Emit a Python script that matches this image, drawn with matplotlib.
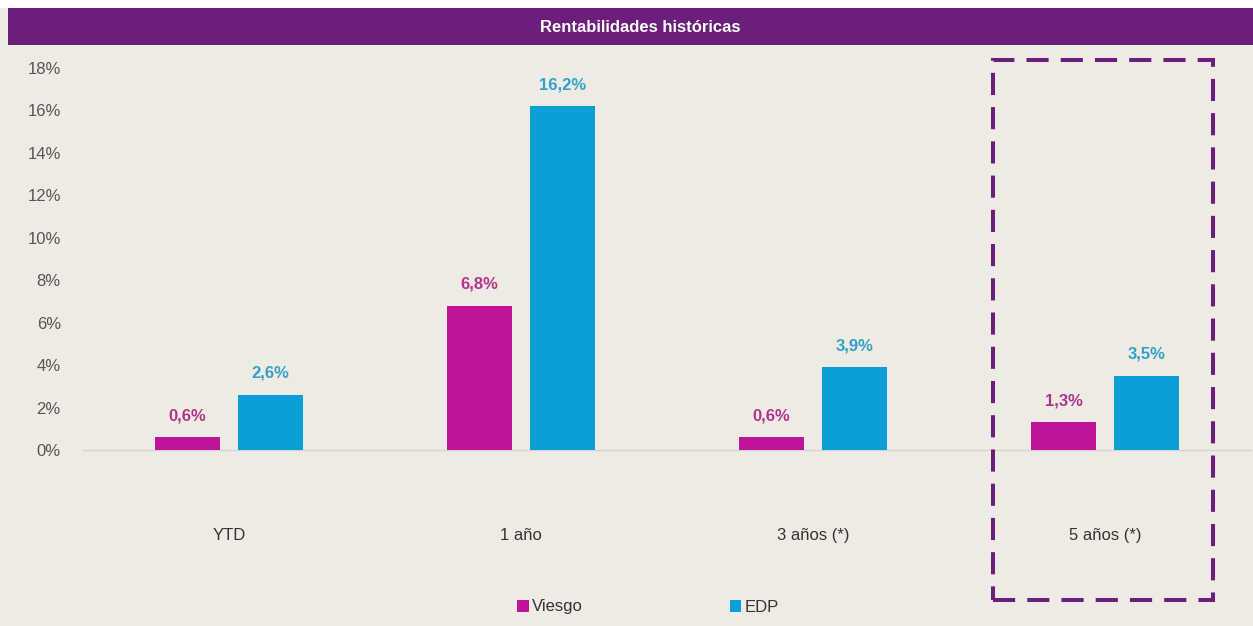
import matplotlib
matplotlib.use("Agg")
import numpy as np
import matplotlib.pyplot as plt
from matplotlib.patches import Rectangle, Patch

CATEGORIES = ["YTD", "1 año", "3 años (*)", "5 años (*)"]
VIESGO = [0.6, 6.8, 0.6, 1.3]
EDP = [2.6, 16.2, 3.9, 3.5]
SERIES_NAMES = ["Viesgo", "EDP"]
YTICKS = [0, 2, 4, 6, 8, 10, 12, 14, 16, 18]
TITLE = "Rentabilidades históricas"

BG = "#EEEBE4"
PURPLE = "#6B1F7B"
C_VIESGO = "#C0139C"
C_EDP = "#0A9FD6"
L_VIESGO = "#B2338C"
L_EDP = "#2FA2C9"
GREY = "#555555"

plt.rcParams["font.family"] = ["Liberation Sans", "DejaVu Sans"]

fig = plt.figure(figsize=(12.53, 6.26), dpi=100)
fig.patch.set_facecolor(BG)

# white strip at top and purple title band
fig.patches.append(Rectangle((0, 1 - 8 / 626), 1, 8 / 626, transform=fig.transFigure,
                             facecolor="white", edgecolor="none", zorder=0))
fig.patches.append(Rectangle((8 / 1253, 1 - 45 / 626), 1, 37 / 626, transform=fig.transFigure,
                             facecolor=PURPLE, edgecolor="none", zorder=1))
fig.text(640 / 1253, 1 - 27 / 626, TITLE, color="white", fontsize=12, fontweight="bold",
         ha="center", va="center", family=["Liberation Sans Narrow", "Liberation Sans"])

ax = fig.add_axes([83 / 1253, 1 - 450 / 626, (1251 - 83) / 1253, (450 - 68) / 626])
ax.set_facecolor(BG)

x = np.arange(len(CATEGORIES))
w = 0.223
off = 0.142
b1 = ax.bar(x - off, VIESGO, w, color=C_VIESGO, zorder=3)
b2 = ax.bar(x + off, EDP, w, color=C_EDP, zorder=3)

for bars, vals, col in [(b1, VIESGO, L_VIESGO), (b2, EDP, L_EDP)]:
    for bar, v in zip(bars, vals):
        ax.annotate(f"{v:.1f}%".replace(".", ","),
                    (bar.get_x() + bar.get_width() / 2, v),
                    xytext=(0, 10), textcoords="offset points",
                    ha="center", va="bottom", color=col, fontsize=12, fontweight="bold")

ax.set_xlim(-0.5, 3.5)
ax.set_ylim(0, 18)
ax.set_yticks(YTICKS)
ax.set_yticklabels([f"{t}%" for t in YTICKS])
ax.set_xticks(x)
ax.set_xticklabels(CATEGORIES)
ax.tick_params(axis="y", length=0, pad=16, labelsize=12, labelcolor=GREY)
ax.tick_params(axis="x", length=0, pad=56, labelsize=12, labelcolor="#333333")
for s in ["top", "right", "left"]:
    ax.spines[s].set_visible(False)
ax.spines["bottom"].set_color("#D8D4CC")
ax.spines["bottom"].set_linewidth(1)

# dashed highlight box around the last group
fig.patches.append(Rectangle((993 / 1253, 1 - 600 / 626), 220 / 1253, 540 / 626,
                             transform=fig.transFigure, fill=False, edgecolor=PURPLE,
                             linewidth=2.9, linestyle=(0, (5.5, 3)), zorder=5))

handles = [Patch(facecolor=C_VIESGO), Patch(facecolor=C_EDP)]
fig.legend(handles, SERIES_NAMES, loc="center", bbox_to_anchor=(648 / 1253, 1 - 607 / 626),
           ncol=2, frameon=False, fontsize=12, handlelength=0.7, handleheight=0.7,
           handletextpad=0.2, columnspacing=8.8, labelcolor="#333333")

fig.savefig("out.png", dpi=100, facecolor=BG)
